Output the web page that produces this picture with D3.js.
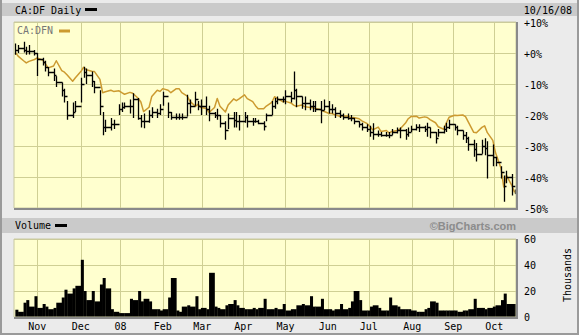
<!DOCTYPE html>
<html><head><meta charset="utf-8">
<script src="https://cdn.jsdelivr.net/npm/d3@7"></script>
<style>html,body{margin:0;padding:0;background:#ebebeb;}svg{display:block;}</style>
</head><body>
<script>
// ---------- data ----------
const startDate = "2007-10-16", endDate = "2008-10-16"; // daily chart, every 2nd trading day sampled
const monthLabels = ["Nov","Dec","08","Feb","Mar","Apr","May","Jun","Jul","Aug","Sep","Oct"];
const monthTickDates = ["2007-11-01","2007-12-03","2008-01-01","2008-02-01","2008-03-01","2008-03-31","2008-05-01","2008-06-01","2008-07-01","2008-08-02","2008-09-01","2008-10-01"];
const pctTicks = [10,0,-10,-20,-30,-40,-50];
const pctLabels = ["+10%","+0%","-10%","-20%","-30%","-40%","-50%"];
const volTicks = [0,20,40,60];
const volLabels = ["0","20","40","60"];

// CA:DFN (gold) % change
const dfnPct = [0.2,-1,-2.5,-3.2,-2.7,-2.1,-1.6,-2.3,-3.4,-4.8,
-4.2,-2.5,-5.7,-6.2,-7.1,-9.1,-8.0,-6,-4.6,-5.4,
-5.9,-6,-8.5,-12.8,-12.5,-12,-12.4,-12.2,-12.8,-13.3,
-12.7,-13,-14.6,-15.8,-18.9,-17.5,-14,-12,-12.4,-11.5,
-12,-12.8,-11.5,-11.5,-12.8,-13.9,-15.6,-17.2,-16.5,-17.6,
-17.9,-19.2,-17.6,-14.7,-17.2,-19,-16.8,-14.8,-15.4,-14.8,
-13.5,-14.7,-15.7,-17,-18,-18,-17.1,-15.9,-14.1,-14.7,
-15.7,-15.6,-16.1,-16.8,-17.2,-16.8,-17.3,-17.6,-17.7,-17.9,
-18.3,-18.8,-19.5,-19.5,-19.9,-20.4,-20.3,-20.3,-21,-20.8,
-21.2,-21.9,-22.8,-23.7,-24.8,-23.9,-25.3,-25,-25.8,-25.3,
-25,-24.5,-22.6,-21.2,-20.5,-20.4,-21,-20.6,-20.8,-21.5,
-22.5,-23.8,-24.6,-22.5,-20.7,-20.1,-20.2,-20,-20.5,-22.2,
-25.6,-25.7,-24,-23.5,-25.7,-28.2,-32.2,-37.2,-43.2,-39.5,
-42.8,-45];

// CA:DF (black) high / low / close, % change
const dfHigh = [3.1,2.6,3.6,2.0,2.6,1.0,0,-1.5,-2.5,-4.5,
-5,-7.5,-9.5,-11.5,-15.5,-16,-15.5,-8,-4.4,-5,
-6,-9,-12,-19,-21.5,-21,-21.5,-16.5,-16,-16,
-15,-13,-14.5,-20,-19.5,-18.5,-17.5,-18,-16.5,-12.5,
-16,-19,-19.5,-19.5,-19.5,-13.5,-15,-12.5,-15.5,-15,
-14,-17,-19,-18,-20,-22,-19.5,-19,-19,-20,
-19,-20,-21,-21,-21.5,-22,-19.5,-15.5,-14.5,-14,
-14,-12,-12.5,-6,-11.5,-14,-14,-15,-15.5,-15.5,
-15.5,-15,-15.5,-16.5,-17.5,-18.5,-19.5,-19.5,-20,-21,
-22,-22.5,-23,-23.5,-22.7,-25,-25.5,-25.5,-25.5,-24.5,
-24,-24,-24.5,-24,-23.5,-23,-23,-23.5,-22.5,-24,
-25.5,-24.5,-23.5,-22.5,-21.5,-23,-23.5,-25,-25.5,-27,
-28,-29,-28,-27.5,-28.5,-29.5,-33.5,-36.5,-39.5,-38,
-39,-44];
const dfLow = [-0.6,0,0.2,-0.6,-0.5,-0.8,-7.4,-4,-6,-7.5,
-9,-11,-14,-16,-21.5,-21,-19,-16,-8,-10,
-11,-13,-20,-26.5,-25.5,-25,-24.5,-20,-19,-18,
-19.5,-21,-21.5,-24,-24.3,-22.5,-21,-21,-20,-17,
-21,-21.5,-21.5,-21.5,-21.5,-20.5,-19.5,-17,-18.5,-20,
-20,-22,-21,-21.5,-24,-28,-24.5,-24,-24,-25,
-22.5,-24,-23.5,-22.5,-23,-25,-22,-20,-18,-16.5,
-16,-16.5,-16,-15,-17.5,-18,-18.5,-18.5,-19,-19,
-22.7,-18.5,-19.5,-19.5,-21,-21,-21.5,-21.5,-22,-23,
-24,-25,-25.5,-27,-28,-27,-27,-27,-27.5,-26.5,
-26,-27.5,-28,-27,-25.5,-25,-25.5,-25.5,-27,-27.5,
-29.2,-27,-26,-25.5,-24.5,-25,-26.5,-28,-29,-31.5,
-33.5,-35,-32.5,-33,-40.5,-36.5,-36.5,-40.5,-48,-42,
-46,-45.5];
const dfClose = [1,1.5,1,0.5,0.8,0,-2,-3,-4.5,-6,
-7,-9.5,-12,-14,-20,-19,-17,-10,-6,-7,
-9,-11,-17,-24,-24,-23,-23,-18,-17.5,-17,
-17,-15,-21,-22,-22,-20,-19,-19.5,-18,-14,
-19,-20.5,-20.5,-20.5,-20.5,-16,-17,-15,-17,-17,
-18,-19.5,-20,-20,-22.5,-25,-21,-21.5,-22,-22,
-20.5,-22,-22,-22,-22.5,-23.5,-20,-17,-15.5,-15,
-15,-14,-14.5,-12,-14,-16,-16,-17,-17,-18,
-18.5,-17,-18,-18,-19.5,-20,-20.5,-21,-21,-22,
-23,-24,-24.5,-25.5,-26,-26,-26.5,-26.5,-26.5,-25.5,
-25,-25,-26,-25.5,-24.5,-24,-24,-24.5,-24,-25.5,
-27.5,-25.5,-24.5,-24,-23,-24,-25,-26.5,-27.5,-29.5,
-31,-32.5,-30,-30.5,-33,-33.5,-35,-38.5,-43,-40,
-43,-45];

// volume, thousands
const volume = [5.6,4,11,13,8,16,7,10,8,6,
7,11,15,21,18,22,24,44,20,13,
20,12,25,30,22,6,4,3,3,3,
14,13,20,12,14,12,6,6,5,6,
15,30,5,4,8,9,8,16,6,7,
6,34,8,7,6,9,10,13,9,7,
6,6,7,6,7,14,6,6,7,6,
10,5,6,6,9,10,9,16,8,8,
14,6,6,5,6,10,6,7,12,20,
13,5,5,8,9,7,5,5,15,9,
8,6,6,6,5,4,4,6,7,12,
11,5,5,5,5,5,4,5,5,6,
14,7,7,6,7,8,9,13,18,10,
10,10];

// ---------- build ----------
const W = 579, H = 335;
const parse = d3.timeParse("%Y-%m-%d");
const allDays = d3.timeDay.range(parse(startDate), d3.timeDay.offset(parse(endDate), 1))
  .filter(d => d.getDay() !== 0 && d.getDay() !== 6);
const dates = allDays.filter((d, i) => i % 2 === 0);
const n = Math.min(dates.length, dfnPct.length, dfHigh.length, dfLow.length, dfClose.length, volume.length);
const rows = d3.range(n).map(i => ({date: dates[i], dfn: dfnPct[i], hi: dfHigh[i], lo: dfLow[i], c: dfClose[i], v: volume[i]}));

const plotL = 14, plotR = 516;
const x = d3.scaleTime().domain([parse("2007-10-15"), parse("2008-10-17")]).range([plotL, plotR]);
const pTop = 22, pBot = 208;
const y = d3.scaleLinear().domain([-50, 10]).range([pBot, pTop]);
const vTop = 239, vBot = 317;
const yv = d3.scaleLinear().domain([0, 60]).range([vBot, vTop]);
const ticks = monthTickDates.map(parse);

const svg = d3.select("body").append("svg").attr("width", W).attr("height", H);
const mono = "'DejaVu Sans Mono', monospace";

svg.append("rect").attr("x", 0).attr("y", 0).attr("width", W).attr("height", H).attr("fill", "#ebebeb");
// frame
svg.append("path").attr("d", `M1,0V${H-1}H${W-1}V0`).attr("fill", "none").attr("stroke", "#9a9a9a").attr("stroke-width", 2);

// header bars
svg.append("rect").attr("x", 2).attr("y", 3).attr("width", W - 4).attr("height", 13).attr("fill", "#cacaca");
svg.append("rect").attr("x", 2).attr("y", 218).attr("width", W - 4).attr("height", 15).attr("fill", "#cacaca");

svg.append("text").attr("x", 15).attr("y", 14).attr("font-family", mono).attr("font-size", 10).attr("fill", "#000").text("CA:DF Daily");
svg.append("rect").attr("x", 85).attr("y", 8).attr("width", 12).attr("height", 3).attr("fill", "#000");
svg.append("text").attr("x", 572).attr("y", 14).attr("text-anchor", "end").attr("font-family", mono).attr("font-size", 10).attr("fill", "#000").text("10/16/08");

svg.append("text").attr("x", 15).attr("y", 229).attr("font-family", mono).attr("font-size", 10).attr("fill", "#000").text("Volume");
svg.append("rect").attr("x", 55).attr("y", 224).attr("width", 12).attr("height", 3).attr("fill", "#000");
svg.append("text").attr("x", 516).attr("y", 229.5).attr("text-anchor", "end").attr("font-family", "'Liberation Sans', Arial, sans-serif").attr("font-weight", "bold").attr("font-size", 11).attr("fill", "#8c8c8c").text("\u00A9BigCharts.com");

// panels
const yellow = "#ffffcf", grid = "#cfcf94";
function panel(top, bot) {
  svg.append("rect").attr("x", plotL).attr("y", top).attr("width", plotR - plotL).attr("height", bot - top).attr("fill", yellow);
}
panel(pTop, pBot);
panel(vTop, vBot);

// grids
const g = svg.append("g").attr("stroke", grid).attr("stroke-width", 1).attr("shape-rendering", "crispEdges");
pctTicks.forEach(t => g.append("line").attr("x1", plotL).attr("x2", plotR).attr("y1", Math.round(y(t)) + 0.5).attr("y2", Math.round(y(t)) + 0.5));
volTicks.forEach(t => g.append("line").attr("x1", plotL).attr("x2", plotR).attr("y1", Math.round(yv(t)) + 0.5).attr("y2", Math.round(yv(t)) + 0.5));
ticks.forEach(t => {
  const xx = Math.round(x(t)) + 0.5;
  g.append("line").attr("x1", xx).attr("x2", xx).attr("y1", pTop).attr("y2", pBot);
  g.append("line").attr("x1", xx).attr("x2", xx).attr("y1", vTop).attr("y2", vBot);
});

// gold line
svg.append("path").datum(rows)
  .attr("d", d3.line().x(d => x(d.date)).y(d => y(d.dfn)))
  .attr("fill", "none").attr("stroke", "#cc9a30").attr("stroke-width", 1.5).attr("stroke-linejoin", "round");

// black HLC bars
let p = "";
rows.forEach((d, i) => {
  const xx = Math.round(x(d.date)) + 0.5;
  const xn = i < rows.length - 1 ? Math.round(x(rows[i + 1].date)) + 0.5 : xx + 2;
  p += `M${xx},${y(d.hi)}V${y(d.lo)}M${xx},${Math.round(y(d.c)) + 0.5}H${xn}`;
});
svg.append("path").attr("d", p).attr("fill", "none").attr("stroke", "#000").attr("stroke-width", 1.3);

// volume bars (contiguous, each spans to the next sample)
svg.append("g").selectAll("rect").data(rows).join("rect")
  .attr("x", d => x(d.date))
  .attr("width", (d, i) => (i < rows.length - 1 ? x(rows[i + 1].date) : plotR) - x(d.date) + 0.3)
  .attr("y", d => yv(d.v))
  .attr("height", d => vBot - yv(d.v))
  .attr("fill", "#000");

// panel borders (inset look)
function border(top, bot) {
  svg.append("path").attr("d", `M${plotL},${top}H${plotR}V${bot}H${plotL}Z`).attr("fill", "none").attr("stroke", "#c8c8a0").attr("stroke-width", 1);
  svg.append("path").attr("d", `M${plotR + 1},${top}V${bot + 1}H${plotL}`).attr("fill", "none").attr("stroke", "#8a8a8a").attr("stroke-width", 2);
}
border(pTop, pBot);
border(vTop, vBot);

// legend in price panel
svg.append("text").attr("x", 17).attr("y", 34).attr("font-family", mono).attr("font-size", 10).attr("fill", "#777").text("CA:DFN");
svg.append("rect").attr("x", 59).attr("y", 29.5).attr("width", 11).attr("height", 3).attr("fill", "#cc9a30");

// right axes
svg.append("g").selectAll("text").data(pctTicks).join("text")
  .attr("x", 524).attr("y", d => y(d) + 4.5)
  .attr("font-family", mono).attr("font-size", 10).attr("fill", "#000")
  .text((d, i) => pctLabels[i]);
svg.append("g").selectAll("text").data(volTicks).join("text")
  .attr("x", 524).attr("y", d => yv(d) + 4)
  .attr("font-family", mono).attr("font-size", 10).attr("fill", "#000")
  .text((d, i) => volLabels[i]);
svg.append("text").attr("transform", "translate(570.5,275) rotate(-90)").attr("text-anchor", "middle")
  .attr("font-family", mono).attr("font-size", 10).attr("fill", "#000").text("Thousands");

// month labels
svg.append("g").selectAll("text").data(ticks).join("text")
  .attr("x", d => x(d)).attr("y", 329.5).attr("text-anchor", "middle")
  .attr("font-family", mono).attr("font-size", 10).attr("fill", "#000")
  .text((d, i) => monthLabels[i]);
</script>
</body></html>
